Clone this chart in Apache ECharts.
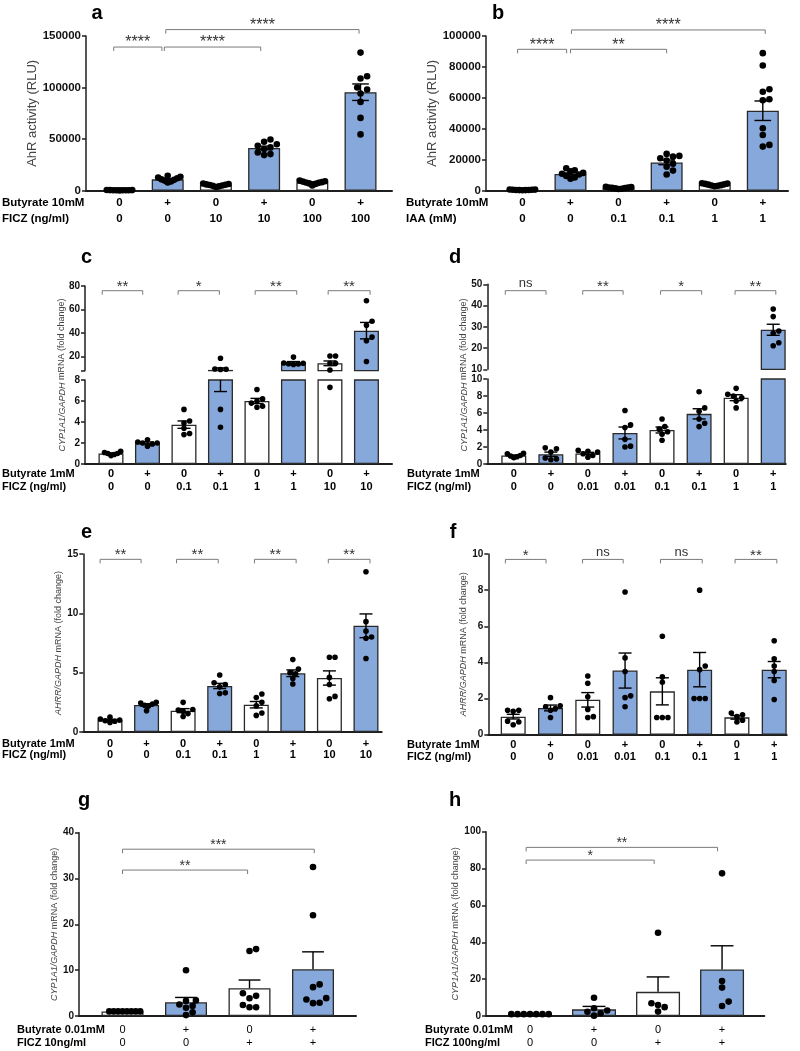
<!DOCTYPE html>
<html><head><meta charset="utf-8">
<script src="https://cdn.jsdelivr.net/npm/echarts@6/dist/echarts.min.js"></script>
<style>html,body{margin:0;padding:0;background:#fff}#chart{width:800px;height:1051px}</style>
</head><body><div id="chart"></div>
<script>
// ================= DATA =================
// Panel a
const aRow1 = ['0','+','0','+','0','+'];
const aRow2 = ['0','0','10','10','100','100'];
const aMeans = [500, 11000, 5500, 41500, 8000, 95500];
const aSems = [100, 650, 400, 1700, 550, 8000];
const aPts = [
  [700,600,600,500,500,450,400,400,300],
  [14500,13500,12800,12000,11000,10500,9800,9000,8000],
  [7000,6500,6100,5800,5500,5100,4700,4200,3600],
  [49700,47500,45000,43500,42000,40500,37000,35500,34500],
  [9800,9200,8800,8300,8000,7600,7100,6600,5000],
  [133900,111000,108800,100100,98100,94300,86100,70600,54600]
];
const aBrackets = [[-0.12,0.88,139300,'****'],[0.93,2.93,139300,'****'],[0.96,4.97,156200,'****']];
// Panel b
const bRow1 = ['0','+','0','+','0','+'];
const bRow2 = ['0','0','0.1','0.1','1','1'];
const bMeans = [500, 10800, 1800, 18300, 3800, 51700];
const bSems = [100, 700, 150, 1500, 200, 6300];
const bPts = [
  [800,700,600,600,500,500,400,400,300],
  [14500,13200,12500,11500,11000,10500,9500,8500,7800],
  [2500,2300,2100,2000,1800,1700,1500,1300,1100],
  [23800,22500,22000,21000,19500,17500,15500,13000,10500],
  [4800,4600,4400,4100,3900,3600,3400,3200,2900],
  [88900,80900,65600,64000,59100,58500,40400,36000,29600,28500]
];
const bBrackets = [[-0.1,0.92,91400,'****'],[1.0,3.0,91400,'**'],[1.02,5.05,103900,'****']];
// Panel c
const cRow1 = ['0','+','0','+','0','+','0','+'];
const cRow2 = ['0','0','0.1','0.1','1','1','10','10'];
const cMeans = [1.0, 2.0, 3.75, 8.6, 6.0, 14.8, 14.2, 42];
const cSems = [0.06, 0.1, 0.35, 1.7, 0.25, 0.9, 2.0, 7.0];
const cPts = [
  [1.2,1.1,1.0,1.0,0.9,0.8],
  [2.3,2.1,2.0,2.0,1.9,1.7],
  [5.2,4.1,3.9,3.4,2.9,2.8],
  [18.5,9.3,9.1,8.9,5.2,3.5],
  [7.1,6.2,6.0,5.8,5.5,5.4],
  [19.5,14.5,14.2,13.8,13.6,13.2],
  [20.4,20.4,14.2,14.2,8.5,7.3],
  [67.5,50,46.5,36.5,33.5,15.7]
];
const cBrackets = [[-0.24,0.87,76,'**'],[1.84,2.97,76,'*'],[3.95,5.09,76,'**'],[5.95,7.1,76,'**']];
// Panel d
const dRow1 = ['0','+','0','+','0','+','0','+'];
const dRow2 = ['0','0','0.01','0.01','0.1','0.1','1','1'];
const dMeans = [1.0, 1.15, 1.25, 3.65, 4.0, 5.9, 7.8, 28.6];
const dSems = [0.06, 0.25, 0.12, 0.7, 0.35, 0.6, 0.35, 2.6];
const dPts = [
  [1.25,1.2,1.0,0.95,0.85,0.75],
  [1.9,1.8,1.4,0.7,0.6,0.5],
  [1.6,1.5,1.4,1.2,1.0,0.8],
  [6.3,4.6,4.3,2.9,2.1,2.0],
  [5.3,4.4,4.1,3.8,3.5,2.8],
  [8.5,6.6,6.2,5.3,4.8,4.4],
  [8.9,8.2,8.0,7.8,7.4,6.6],
  [38.4,34.8,28.0,27.0,22.5,21.1]
];
const dBrackets = [[-0.23,0.87,47,'ns'],[1.86,2.95,47,'**'],[3.96,5.07,47,'*'],[5.97,7.07,47,'**']];
// Panel e
const eRow1 = ['0','+','0','+','0','+','0','+'];
const eRow2 = ['0','0','0.1','0.1','1','1','10','10'];
const eMeans = [1.0, 2.28, 1.8, 3.88, 2.3, 4.95, 4.55, 8.95];
const eSems = [0.07, 0.1, 0.17, 0.22, 0.27, 0.28, 0.6, 1.0];
const ePts = [
  [1.25,1.1,1.0,0.95,0.9,0.8],
  [2.5,2.45,2.35,2.25,2.2,1.8],
  [2.5,1.9,1.85,1.75,1.55,1.3],
  [4.8,4.15,4.0,3.8,3.3,3.25],
  [3.2,2.9,2.5,2.2,1.6,1.4],
  [6.1,5.3,5.0,4.9,4.5,4.05],
  [6.3,6.3,4.6,4.0,3.0,2.8],
  [13.5,9.3,8.5,8.0,7.9,6.2]
];
const eBrackets = [[-0.27,0.85,14.55,'**'],[1.82,2.96,14.55,'**'],[3.95,5.09,14.55,'**'],[5.97,7.11,14.55,'**']];
// Panel f
const fRow1 = ['0','+','0','+','0','+','0','+'];
const fRow2 = ['0','0','0.01','0.01','0.1','0.1','1','1'];
const fMeans = [1.0, 1.48, 1.93, 3.55, 2.4, 3.6, 0.96, 3.6];
const fSems = [0.13, 0.16, 0.4, 0.97, 0.75, 0.95, 0.1, 0.45];
const fPts = [
  [1.35,1.35,1.3,0.75,0.7,0.55],
  [2.05,1.6,1.55,1.45,1.35,0.95],
  [3.25,2.85,2.1,1.4,1.0,0.95],
  [7.9,4.25,3.5,2.15,2.05,1.55],
  [5.45,3.2,2.9,0.95,0.95,0.95],
  [8.0,3.8,3.6,2.0,2.0,2.0],
  [1.2,1.1,1.0,0.8,0.7],
  [5.2,4.2,3.8,3.5,3.0,1.95]
];
const fBrackets = [[-0.21,0.88,9.7,'*'],[1.86,2.95,9.7,'ns'],[3.95,5.07,9.7,'ns'],[5.95,7.07,9.7,'**']];
// Panel g
const gRow1 = ['0','+','0','+'];
const gRow2 = ['0','0','+','+'];
const gMeans = [1.0, 3.0, 6.05, 10.2];
const gSems = [0.02, 1.05, 1.8, 3.8];
const gPts = [
  [1,1,1,1,1,1,1,1],
  [10.0,3.4,3.3,2.5,2.2,1.8,0.8,0.2],
  [14.6,14.2,4.95,4.4,3.86,2.4,1.9,1.9],
  [32.5,22.0,6.9,6.3,3.9,3.6,2.9,2.8]
];
const gBrackets = [[0,1.97,31.85,'**'],[0,3.02,36.4,'***']];
// Panel h
const hRow1 = ['0','+','0','+'];
const hRow2 = ['0','0','+','+'];
const hMeans = [1.0, 3.6, 13.1, 25.2];
const hSems = [0.05, 1.6, 8.1, 12.9];
const hPts = [
  [1,1,1,1,1,1,1],
  [9.9,4.2,3.0,2.3,1.5,0.2],
  [45.2,6.9,6.0,4.8,2.4],
  [77.4,19.0,15.4,7.8,5.4]
];
const hBrackets = [[-0.06,1.94,84.6,'*'],[-0.06,2.93,91.5,'**']];

// ================= LAYOUT / STYLE =================
const FONT = '"Liberation Sans", Arial, Helvetica, sans-serif';
const BLUE = '#86A8DA';
const INK = '#1e1e1e';

const panels = [
  {letter:'a', lx:97, ly:13, left:86, width:306, xmin:-0.695, xmax:5.653,
   segs:[{top:36, height:154.7, min:0, max:150000, interval:50000}],
   row1:aRow1, row2:aRow2, heads:['Butyrate 10mM','FICZ (ng/ml)'], headX:2, lh:16, lm:4.6, rowFont:11.5, rowBold:true,
   means:aMeans, sems:aSems, pts:aPts, barW:32, r:3.3, upOnly:false,
   yName:'AhR activity (RLU)', yNameSize:13, yNameGap:46, yLabelSize:11.5, brackets:aBrackets, starSize:16},
  {letter:'b', lx:498, ly:13, left:486, width:302, xmin:-0.757, xmax:5.524,
   segs:[{top:36, height:154.7, min:0, max:100000, interval:20000}],
   row1:bRow1, row2:bRow2, heads:['Butyrate 10mM','IAA (mM)'], headX:406, lh:16, lm:4.6, rowFont:11.5, rowBold:true,
   means:bMeans, sems:bSems, pts:bPts, barW:32, r:3.3, upOnly:false,
   yName:'AhR activity (RLU)', yNameSize:13, yNameGap:46, yLabelSize:11.5, brackets:bBrackets, starSize:16},
  {letter:'c', lx:86.5, ly:257, left:85, width:307, xmin:-0.712, xmax:7.7,
   segs:[{top:380, height:84, min:0, max:8, interval:2},
         {top:286, height:84.6, min:8, max:80, labels:[20,40,60,80], ticks:[8,20,40,60,80]}],
   row1:cRow1, row2:cRow2, heads:['Butyrate 1mM','FICZ (ng/ml)'], headX:2, lh:13.3, lm:3.4, rowFont:11, rowBold:true,
   means:cMeans, sems:cSems, pts:cPts, barW:25, r:2.8, upOnly:false,
   yName:'{i|CYP1A1/GAPDH} mRNA (fold change)', gName:{x:62, y:375}, yNameSize:9, yLabelSize:10, brackets:cBrackets, starSize:15},
  {letter:'d', lx:455, ly:257, left:487.3, width:298.4, xmin:-0.715, xmax:7.337,
   segs:[{top:379, height:85, min:0, max:10, interval:2},
         {top:284.3, height:85, min:10, max:50, interval:10}],
   row1:dRow1, row2:dRow2, heads:['Butyrate 1mM','FICZ (ng/ml)'], headX:407, lh:13.3, lm:3.4, rowFont:11, rowBold:true,
   means:dMeans, sems:dSems, pts:dPts, barW:25, r:2.8, upOnly:false,
   yName:'{i|CYP1A1/GAPDH} mRNA (fold change)', gName:{x:464, y:375}, yNameSize:9, yLabelSize:10, brackets:dBrackets, starSize:15},
  {letter:'e', lx:86.5, ly:532.5, left:83.3, width:298.4, xmin:-0.73, xmax:7.43,
   segs:[{top:554, height:178, min:0, max:15, interval:5}],
   row1:eRow1, row2:eRow2, heads:['Butyrate 1mM','FICZ (ng/ml)'], headX:2, lh:11.3, lm:6, rowFont:11, rowBold:true,
   means:eMeans, sems:eSems, pts:ePts, barW:25, r:2.8, upOnly:false,
   yName:'{i|AHRR/GAPDH} mRNA (fold change)', yNameSize:9, yNameGap:17, yLabelSize:10, brackets:eBrackets, starSize:15},
  {letter:'f', lx:453, ly:532, left:488.3, width:298.4, xmin:-0.668, xmax:7.335,
   segs:[{top:554, height:180.7, min:0, max:10, interval:2}],
   row1:fRow1, row2:fRow2, heads:['Butyrate 1mM','FICZ (ng/ml)'], headX:407, lh:11.7, lm:4.5, rowFont:11, rowBold:true,
   means:fMeans, sems:fSems, pts:fPts, barW:25, r:2.8, upOnly:false,
   yName:'{i|AHRR/GAPDH} mRNA (fold change)', yNameSize:9, yNameGap:20, yLabelSize:10, brackets:fBrackets, starSize:15},
  {letter:'g', lx:84, ly:800, left:79, width:277, xmin:-0.685, xmax:3.677,
   segs:[{top:832.7, height:183.3, min:0, max:40, interval:10}],
   row1:gRow1, row2:gRow2, heads:['Butyrate 0.01mM','FICZ 10ng/ml'], headX:17, lh:13.3, lm:7.3, rowFont:11, rowBold:false,
   means:gMeans, sems:gSems, pts:gPts, barW:42, r:3.3, upOnly:true,
   yName:'{i|CYP1A1/GAPDH} mRNA (fold change)', yNameSize:9, yNameGap:14, yLabelSize:10, brackets:gBrackets, starSize:14},
  {letter:'h', lx:455, ly:800, left:486, width:278.3, xmin:-0.6875, xmax:3.66,
   segs:[{top:831.7, height:184.3, min:0, max:100, interval:20}],
   row1:hRow1, row2:hRow2, heads:['Butyrate 0.01mM','FICZ 100ng/ml'], headX:425, lh:13.3, lm:7.3, rowFont:11, rowBold:false,
   means:hMeans, sems:hSems, pts:hPts, barW:44, r:3.3, upOnly:true,
   yName:'{i|CYP1A1/GAPDH} mRNA (fold change)', yNameSize:9, yNameGap:18, yLabelSize:10, brackets:hBrackets, starSize:14}
];

// beeswarm in pixel space
function swarm(ys, diam, limit) {
  const order = ys.map((y, i) => i).sort((p, q) => ys[q] - ys[p]);
  const xs = new Array(ys.length).fill(0);
  const placed = [];
  const step = diam * 0.5;
  for (const i of order) {
    let best = 0;
    for (let n = 0; n < 80; n++) {
      const cand = n === 0 ? 0 : (n % 2 ? 1 : -1) * Math.ceil(n / 2) * step;
      let ok = true;
      for (const j of placed) {
        const dx = cand - xs[j], dy = ys[i] - ys[j];
        if (dx * dx + dy * dy < diam * diam * 0.85) { ok = false; break; }
      }
      if (ok) { best = cand; break; }
    }
    xs[i] = best; placed.push(i);
  }
  const mx = Math.max(0, ...xs.map(Math.abs));
  if (mx > limit) for (let i = 0; i < xs.length; i++) xs[i] *= limit / mx;
  return xs;
}

const option = {
  animation: false,
  textStyle: {fontFamily: FONT},
  grid: [], xAxis: [], yAxis: [], series: [], graphic: []
};

panels.forEach(P => {
  const cats = P.means.map((m, i) => i);
  const broken = P.segs.length > 1;
  P.segs.forEach((S, s) => {
    const gi = option.grid.length;
    const isBottom = s === 0, isTop = s === P.segs.length - 1;
    option.grid.push({left: P.left, top: S.top, width: P.width, height: S.height});
    option.xAxis.push({
      gridIndex: gi, type: 'value', min: P.xmin, max: P.xmax, show: isBottom,
      axisLine: {show: true, onZero: false, lineStyle: {color: INK, width: 2}},
      axisTick: {show: false}, splitLine: {show: false},
      axisLabel: {
        customValues: cats, margin: P.lm, lineHeight: P.lh, color: '#000',
        fontSize: P.rowFont, fontWeight: P.rowBold ? 'bold' : 'normal', fontFamily: FONT,
        formatter: v => { const i = Math.round(v); return P.row1[i] + '\n' + P.row2[i]; }
      }
    });
    const ya = {
      gridIndex: gi, type: 'value', min: S.min, max: S.max,
      axisLine: {show: true, onZero: false, lineStyle: {color: INK, width: 1.5}},
      axisTick: {show: true, length: 4, lineStyle: {color: INK, width: 1.5}},
      splitLine: {show: false},
      axisLabel: {fontSize: P.yLabelSize, fontWeight: 'bold', color: '#111', margin: 5, fontFamily: FONT,
                  formatter: v => String(v)}
    };
    if (S.interval) ya.interval = S.interval;
    if (S.labels) ya.axisLabel.customValues = S.labels;
    if (S.ticks) ya.axisTick.customValues = S.ticks;
    if (!broken && P.yName) {
      Object.assign(ya, {
        name: P.yName, nameLocation: 'middle', nameGap: P.yNameGap, nameRotate: 90,
        nameTextStyle: {fontSize: P.yNameSize, color: '#444', fontFamily: FONT,
          rich: {i: {fontStyle: 'italic', fontSize: P.yNameSize, color: '#444', fontFamily: FONT}}}
      });
    }
    option.yAxis.push(ya);

    // bars
    option.series.push({
      type: 'bar', xAxisIndex: gi, yAxisIndex: gi, barWidth: P.barW, clip: true, silent: true,
      data: P.means.map((m, i) => ({value: [i, m], itemStyle: {color: P.row1[i] === '+' ? BLUE : '#fff'}})),
      itemStyle: {borderColor: '#2a2a2a', borderWidth: 1.3}
    });
    // dots
    option.series.push({
      type: 'custom', xAxisIndex: gi, yAxisIndex: gi, silent: true, z: 3,
      data: P.means.map((m, i) => [i, m]),
      renderItem: (params, api) => {
        const i = params.dataIndex;
        const vals = P.pts[i].filter(v => !broken || (isBottom ? v <= S.max : v > S.min));
        const ys = vals.map(v => api.coord([i, v])[1]);
        const cx = api.coord([i, 0])[0];
        const xs = swarm(ys, P.r * 2, P.barW / 2 - P.r);
        return {type: 'group', children: ys.map((y, k) => ({
          type: 'circle', shape: {cx: cx + xs[k], cy: y, r: P.r}, style: {fill: '#000'}
        }))};
      }
    });
    // error bars
    option.series.push({
      type: 'custom', xAxisIndex: gi, yAxisIndex: gi, silent: true, z: 4,
      data: P.means.map((m, i) => [i, m]),
      renderItem: (params, api) => {
        const i = params.dataIndex, m = P.means[i], e = P.sems[i];
        const cs = params.coordSys;
        const yTop = cs.y, yBot = cs.y + cs.height;
        const lo = P.upOnly ? m : m - e, hi = m + e;
        const pLo = api.coord([i, lo]), pHi = api.coord([i, hi]);
        const x = pLo[0];
        const children = [];
        const a = Math.min(Math.max(pHi[1], yTop), yBot), b = Math.min(Math.max(pLo[1], yTop), yBot);
        if (b - a > 0.1) children.push({type: 'line', shape: {x1: x, y1: a, x2: x, y2: b}, style: {stroke: '#000', lineWidth: 1.4}});
        const hw = P.barW * 0.26;
        const caps = P.upOnly ? [pHi[1]] : [pHi[1], pLo[1]];
        caps.forEach(y => {
          if (y >= yTop - 0.5 && y <= yBot + 0.5)
            children.push({type: 'line', shape: {x1: x - hw, y1: y, x2: x + hw, y2: y}, style: {stroke: '#000', lineWidth: 1.4}});
        });
        return {type: 'group', children};
      }
    });
    // brackets on top segment
    if (isTop) {
      option.series.push({
        type: 'custom', xAxisIndex: gi, yAxisIndex: gi, silent: true, z: 5,
        data: P.brackets.map(b => [b[0], b[2]]),
        renderItem: (params, api) => {
          const b = P.brackets[params.dataIndex];
          const p1 = api.coord([b[0], b[2]]), p2 = api.coord([b[1], b[2]]);
          const y = p1[1];
          const isNs = b[3] === 'ns';
          return {type: 'group', children: [
            {type: 'polyline', shape: {points: [[p1[0], y + 4], [p1[0], y], [p2[0], y], [p2[0], y + 4]]},
             style: {stroke: '#7a7a7a', lineWidth: 1, fill: null}},
            {type: 'text', x: (p1[0] + p2[0]) / 2, y: isNs ? y - 7 : y - 4,
             style: {text: b[3], fill: '#333', font: (isNs ? 13 : P.starSize) + 'px ' + FONT,
                     textAlign: 'center', textVerticalAlign: 'middle',
                     align: 'center', verticalAlign: 'middle'}}
          ]};
        }
      });
    }
  });

  // graphic: panel letter, row headers, broken-axis y name
  option.graphic.push({type: 'text', x: P.lx, y: P.ly,
    style: {text: P.letter, font: 'bold 20px ' + FONT, fill: '#000', textAlign: 'center', textVerticalAlign: 'middle', align: 'center', verticalAlign: 'middle'}});
  const axisY = P.segs[0].top + P.segs[0].height;
  P.heads.forEach((h, k) => {
    option.graphic.push({type: 'text', x: P.headX, y: axisY + P.lm + P.lh * (k + 0.5),
      style: {text: h, font: 'bold ' + P.rowFont + 'px ' + FONT, fill: '#000', textAlign: 'left', textVerticalAlign: 'middle', align: 'left', verticalAlign: 'middle'}});
  });
  if (P.gName) {
    option.graphic.push({type: 'text', x: P.gName.x, y: P.gName.y, rotation: Math.PI / 2,
      style: {text: P.yName, fill: '#444', font: P.yNameSize + 'px ' + FONT,
        rich: {i: {fontStyle: 'italic', fontSize: P.yNameSize, fill: '#444', fontFamily: FONT}},
        textAlign: 'center', textVerticalAlign: 'middle', align: 'center', verticalAlign: 'middle'}});
  }
});

const chart = echarts.init(document.getElementById('chart'), null, {renderer: 'canvas'});
chart.setOption(option);
</script>
</body></html>
